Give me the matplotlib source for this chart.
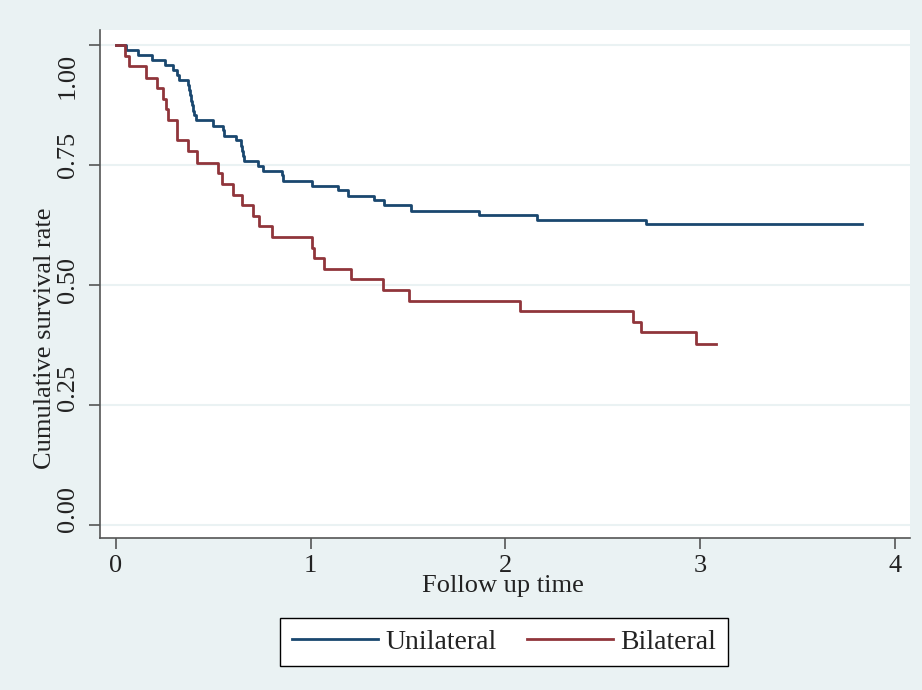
import numpy as np
import matplotlib.pyplot as plt

# Kaplan-Meier estimates (time in years, survival)
uni_t = [0, 0.051, 0.115, 0.186, 0.252, 0.291, 0.315, 0.325, 0.37, 0.375, 0.38,
         0.385, 0.39, 0.395, 0.40, 0.41, 0.497, 0.551, 0.556, 0.615, 0.640, 0.645,
         0.650, 0.655, 0.731, 0.754, 0.851, 0.856, 1.008, 1.142, 1.190, 1.325,
         1.377, 1.515, 1.864, 2.160, 2.722, 3.833]
uni_s = [1.0, 0.989, 0.979, 0.968, 0.958, 0.947, 0.937, 0.926, 0.916, 0.905, 0.895,
         0.884, 0.874, 0.863, 0.853, 0.843, 0.832, 0.822, 0.811, 0.801, 0.790, 0.780,
         0.769, 0.759, 0.748, 0.738, 0.728, 0.717, 0.707, 0.697, 0.686, 0.676,
         0.666, 0.655, 0.645, 0.636, 0.626, 0.626]

bil_t = [0, 0.046, 0.067, 0.154, 0.209, 0.240, 0.257, 0.269, 0.312, 0.368, 0.414,
         0.522, 0.546, 0.602, 0.645, 0.705, 0.736, 0.801, 1.008, 1.015, 1.070,
         1.207, 1.373, 1.505, 2.075, 2.657, 2.697, 2.979, 3.082]
bil_s = [1.0, 0.977, 0.955, 0.932, 0.910, 0.888, 0.866, 0.844, 0.801, 0.778, 0.755,
         0.733, 0.710, 0.688, 0.666, 0.644, 0.622, 0.600, 0.578, 0.556, 0.534,
         0.512, 0.490, 0.467, 0.445, 0.423, 0.401, 0.378, 0.378]

yticks = [0, 0.25, 0.5, 0.75, 1.0]
ylabels = ['0.00', '0.25', '0.50', '0.75', '1.00']
xticks = [0, 1, 2, 3, 4]

# label nudges (pixels, up positive) as they sit in the original graph
ylab_shift = [16, 17, 5, 10, -31]

bg = '#eaf2f3'
navy = '#1a476f'
maroon = '#90353b'
ink = '#222222'
plt.rcParams['font.family'] = ['Liberation Serif', 'DejaVu Serif']

W, H = 922, 690
fig = plt.figure(figsize=(W / 100, H / 100), dpi=100, facecolor=bg)
ax = fig.add_axes([100 / W, (H - 538) / H, 810 / W, 508 / H])
ax.set_facecolor('white')

ax.step(uni_t, uni_s, where='post', color=navy, lw=2, label='Unilateral')
ax.step(bil_t, bil_s, where='post', color=maroon, lw=2, label='Bilateral')

ax.set_xlim(-0.082, 4.078)
ax.set_ylim(-0.027, 1.031)
ax.set_yticks(yticks)
ax.set_yticklabels([])
ax.set_xticks(xticks)
ax.set_xticklabels([str(v) for v in xticks], fontsize=19)
for y in yticks:
    ax.axhline(y, color=bg, lw=1.5, zorder=0)

for y, lab, dy in zip(yticks, ylabels, ylab_shift):
    ax.annotate(lab, xy=(0, y), xycoords=('axes fraction', 'data'),
                xytext=(-32, dy), textcoords='offset pixels', rotation=90,
                ha='center', va='center', fontsize=19, color=ink)

for s in ['top', 'right']:
    ax.spines[s].set_visible(False)
for s in ['left', 'bottom']:
    ax.spines[s].set_color('#555555')
    ax.spines[s].set_linewidth(1.2)
ax.tick_params(axis='both', colors='#555555', labelcolor=ink,
               length=8, width=1.2, direction='out')
ax.tick_params(axis='x', pad=4)

fig.text(503 / W, 1 - 592 / H, 'Follow up time', ha='center', va='baseline',
         fontsize=19, color=ink)
fig.text(45 / W, 1 - 338 / H, 'Cumulative survival rate', ha='center',
         va='center', rotation=90, fontsize=19, color=ink)

leg = fig.legend(loc='center', bbox_to_anchor=(504 / W, 1 - 642 / H), ncol=2,
                 fontsize=20, frameon=True, fancybox=False, handlelength=3.1,
                 columnspacing=1.1, handletextpad=0.25, borderpad=0.42,
                 framealpha=1)
leg.get_frame().set_edgecolor('black')
leg.get_frame().set_facecolor('white')
leg.get_frame().set_linewidth(1.0)
for t in leg.get_texts():
    t.set_color(ink)

fig.savefig('out.png', dpi=100, facecolor=bg)
